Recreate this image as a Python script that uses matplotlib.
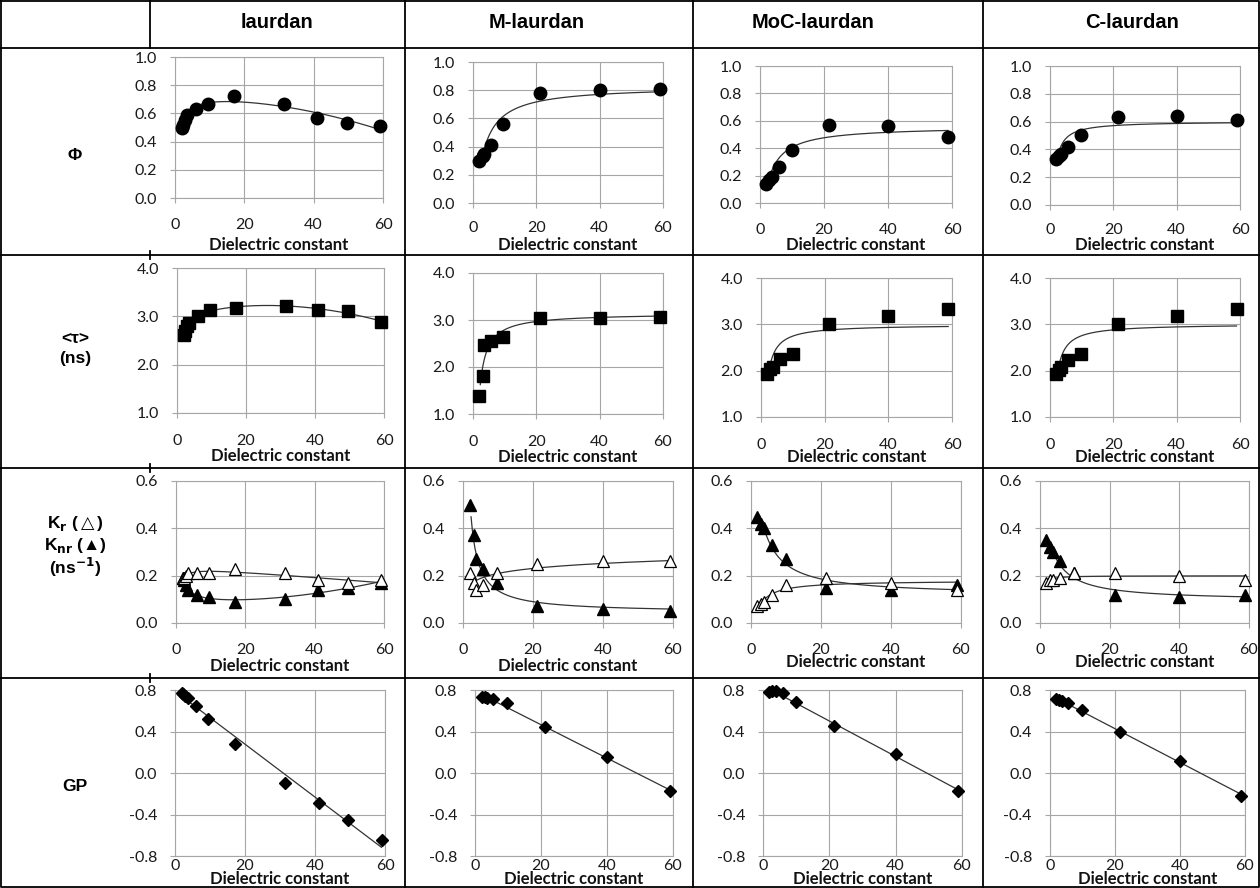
import numpy as np
import matplotlib
matplotlib.use("Agg")
import matplotlib.pyplot as plt
from matplotlib.lines import Line2D
from matplotlib.ticker import FormatStrFormatter

W, H = 1260, 888

# ---------------- data ----------------
columns = ["laurdan", "M-laurdan", "MoC-laurdan", "C-laurdan"]
xlabel = "Dielectric constant"

eps_laurdan = [2.0, 2.3, 2.8, 3.6, 6.0, 9.5, 17.0, 31.5, 41.0, 49.5, 59.0]
phi_laurdan = [0.50, 0.52, 0.55, 0.59, 0.63, 0.67, 0.72, 0.67, 0.57, 0.53, 0.51]
tau_laurdan = [2.62, 2.70, 2.80, 2.87, 3.00, 3.13, 3.18, 3.21, 3.13, 3.12, 2.88]
kr_laurdan = [0.19, 0.19, 0.20, 0.21, 0.21, 0.21, 0.23, 0.21, 0.18, 0.17, 0.18]
knr_laurdan = [0.19, 0.18, 0.16, 0.14, 0.12, 0.11, 0.09, 0.10, 0.14, 0.15, 0.17]
gp_laurdan = [0.77, 0.76, 0.74, 0.72, 0.65, 0.52, 0.28, -0.10, -0.29, -0.45, -0.65]

eps_m = [2.0, 3.1, 3.6, 5.6, 9.6, 21.2, 40.0, 59.0]
phi_m = [0.30, 0.33, 0.35, 0.41, 0.56, 0.78, 0.80, 0.81]
tau_m = [1.38, 1.80, 2.47, 2.56, 2.64, 3.04, 3.04, 3.07]
kr_m = [0.21, 0.17, 0.14, 0.16, 0.21, 0.25, 0.26, 0.26]
knr_m = [0.50, 0.37, 0.27, 0.23, 0.17, 0.07, 0.06, 0.05]
gp_m = [0.73, 0.73, 0.72, 0.71, 0.67, 0.44, 0.15, -0.17]

eps_moc = [1.8, 2.8, 3.8, 6.0, 10.0, 21.5, 40.0, 58.8]
phi_moc = [0.14, 0.17, 0.19, 0.26, 0.39, 0.57, 0.56, 0.48]
tau_moc = [1.92, 2.03, 2.08, 2.25, 2.35, 3.01, 3.18, 3.33]
kr_moc = [0.07, 0.08, 0.09, 0.12, 0.16, 0.19, 0.17, 0.14]
knr_moc = [0.45, 0.42, 0.40, 0.33, 0.27, 0.15, 0.14, 0.16]
gp_moc = [0.78, 0.79, 0.79, 0.77, 0.68, 0.45, 0.18, -0.17]

eps_c = [1.8, 2.8, 3.6, 5.6, 9.8, 21.4, 40.0, 58.9]
phi_c = [0.33, 0.35, 0.37, 0.42, 0.50, 0.63, 0.64, 0.61]
tau_c = [1.92, 2.02, 2.07, 2.24, 2.35, 3.01, 3.18, 3.33]
kr_c = [0.17, 0.18, 0.18, 0.19, 0.21, 0.21, 0.20, 0.18]
knr_c = [0.35, 0.32, 0.30, 0.26, 0.21, 0.12, 0.11, 0.12]
gp_c = [0.71, 0.70, 0.69, 0.67, 0.61, 0.40, 0.12, -0.22]

eps_all = [eps_laurdan, eps_m, eps_moc, eps_c]
phi_all = [phi_laurdan, phi_m, phi_moc, phi_c]
tau_all = [tau_laurdan, tau_m, tau_moc, tau_c]
kr_all = [kr_laurdan, kr_m, kr_moc, kr_c]
knr_all = [knr_laurdan, knr_m, knr_moc, knr_c]
gp_all = [gp_laurdan, gp_m, gp_moc, gp_c]

# trend-line model per curve
fit_phi = ["poly", "cm", "cm", "hyp"]
fit_tau = ["poly", "hyp", "hyp", "hyp"]
fit_kr = ["poly", "log", "hyp2", "hyp2"]
fit_knr = ["poly", "hyp", "hyp2", "hyp2"]

# ---------------- layout (pixels) ----------------
col_lines = [405, 693, 983]
first_col = 150
row_lines = [48, 255, 468, 678]
header_x = [277, 537, 813, 1132]

boxes = [
    [(175, 383, 57, 198), (473, 663, 62, 203), (760, 952, 66, 203), (1050, 1240, 66, 205)],
    [(177, 384, 268, 413), (473, 663, 273, 414), (761, 952, 278, 417), (1050, 1240, 278, 417)],
    [(176, 384, 481, 623), (463, 673, 481, 623), (751, 961, 481, 623), (1040, 1249, 481, 623)],
    [(175, 385, 690, 856), (475, 673, 690, 856), (763, 962, 690, 856), (1050, 1245, 690, 856)],
]
tick_y = [[223, 226, 228, 228], [439, 440, 443, 443], [648, 648, 648, 648], [864, 864, 864, 864]]
label_y = [[243, 243, 243, 243], [454, 455, 455, 455], [664, 664, 660, 660], [877, 877, 877, 877]]

ylims = [(0, 1.0), (1.0, 4.0), (0, 0.6), (-0.8, 0.8)]
yticks = [np.arange(0, 1.01, 0.2), np.arange(1, 4.01, 1.0),
          np.arange(0, 0.61, 0.2), np.arange(-0.8, 0.81, 0.4)]

TICKFONT = "Lato"
GRID = "#a6a6a6"
PX = 100 / 72.0  # pixels per point

fig = plt.figure(figsize=(W / 100, H / 100), dpi=100)

# frame axes (table lines)
frame = fig.add_axes([0, 0, 1, 1], zorder=-1)
frame.set_xlim(0, W)
frame.set_ylim(H, 0)
frame.axis("off")


def add_ax(box):
    L, R, T, B = box
    return fig.add_axes([L / W, 1 - B / H, (R - L) / W, (B - T) / H])


def fit_curve(x, y, kind):
    x = np.asarray(x, float)
    y = np.asarray(y, float)
    if kind == "poly":
        basis = lambda t: np.column_stack([np.ones_like(t), 1 / t, t, t ** 2])
    elif kind == "log":
        basis = lambda t: np.column_stack([np.ones_like(t), np.log(t)])
    elif kind == "hyp2":
        basis = lambda t: np.column_stack([np.ones_like(t), 1 / t, 1 / t ** 2])
    elif kind == "cm":
        basis = lambda t: np.column_stack([np.ones_like(t), (t - 1) / (t + 2)])
    else:
        basis = lambda t: np.column_stack([np.ones_like(t), 1 / t])
    coef, *_ = np.linalg.lstsq(basis(x), y, rcond=None)
    xs = np.linspace(x.min() + 0.3, x.max(), 300)
    return xs, basis(xs) @ coef


def style_ax(ax, r, c):
    L, R, T, B = boxes[r][c]
    ax.set_xlim(0, 60)
    ax.set_ylim(*ylims[r])
    ax.set_xticks([0, 20, 40, 60])
    ax.set_yticks(yticks[r])
    ax.yaxis.set_major_formatter(FormatStrFormatter("%.1f"))
    ax.grid(True, color=GRID, lw=0.8)
    ax.set_axisbelow(True)
    for s in ax.spines.values():
        s.set_color(GRID)
        s.set_linewidth(0.8)
    tl = 0 if r == 3 else 5
    xpad = max(0.0, (tick_y[r][c] - 5 - B - tl) / PX)
    ax.tick_params(axis="x", direction="out", length=tl / PX, width=0.8, color=GRID,
                   labelsize=11.5, pad=xpad, labelcolor="#1a1a1a")
    ax.tick_params(axis="y", direction="out", length=5 / PX, width=0.8, color=GRID,
                   labelsize=11.5, pad=13 / PX, labelcolor="#1a1a1a")
    for lab in ax.get_xticklabels() + ax.get_yticklabels():
        lab.set_fontfamily(TICKFONT)
    ax.set_xlabel(xlabel, fontsize=12, fontweight="bold", fontfamily=TICKFONT,
                  color="#111111")
    top = label_y[r][c] - 6
    ax.xaxis.set_label_coords(0.5, (B - top) / (B - T))
    ax.set_facecolor("none")


line_kw = dict(color="#333333", lw=0.9, zorder=2)

for c in range(4):
    x = eps_all[c]
    # row 1: quantum yield
    ax = add_ax(boxes[0][c])
    style_ax(ax, 0, c)
    ax.plot(*fit_curve(x, phi_all[c], fit_phi[c]), **line_kw)
    ax.plot(x, phi_all[c], "o", ms=9, color="black", zorder=3, clip_on=False)
    # row 2: lifetime
    ax = add_ax(boxes[1][c])
    style_ax(ax, 1, c)
    ax.plot(*fit_curve(x, tau_all[c], fit_tau[c]), **line_kw)
    ax.plot(x, tau_all[c], "s", ms=8.5, color="black", zorder=3, clip_on=False)
    # row 3: rate constants
    ax = add_ax(boxes[2][c])
    style_ax(ax, 2, c)
    ax.plot(*fit_curve(x, kr_all[c], fit_kr[c]), **line_kw)
    ax.plot(*fit_curve(x, knr_all[c], fit_knr[c]), **line_kw)
    ax.plot(x, knr_all[c], "^", ms=8, color="black", zorder=3, clip_on=False)
    ax.plot(x, kr_all[c], "^", ms=8, mfc="white", mec="black", mew=0.9,
            zorder=4, clip_on=False)
    # row 4: GP
    ax = add_ax(boxes[3][c])
    style_ax(ax, 3, c)
    xx = np.array(x, float)
    coef = np.polyfit(xx, gp_all[c], 1)
    xs = np.linspace(xx.min(), xx.max(), 50)
    ax.plot(xs, np.polyval(coef, xs), **line_kw)
    ax.plot(x, gp_all[c], "D", ms=6.5, color="black", zorder=3, clip_on=False)

# ---------------- table frame ----------------
lw_t = 1.3
frame.add_line(Line2D([first_col, first_col], [0, row_lines[0]], color="black", lw=lw_t))
for yv in row_lines[1:]:
    frame.add_line(Line2D([first_col, first_col], [yv - 4, yv + 4], color="black", lw=lw_t))
for xv in col_lines:
    frame.add_line(Line2D([xv, xv], [0, H], color="black", lw=lw_t))
for yv in row_lines:
    frame.add_line(Line2D([0, W], [yv, yv], color="black", lw=lw_t))
frame.add_line(Line2D([1, W - 1, W - 1, 1, 1], [1, 1, H - 1, H - 1, 1], color="black", lw=lw_t))

HEAD = ["Liberation Sans", "DejaVu Sans"]
for hx, name in zip(header_x, columns):
    frame.text(hx, 22, name, ha="center", va="center", fontsize=14.5,
               fontweight="bold", family=HEAD)

rowfs = 12.5
kw = dict(ha="center", va="center", fontsize=rowfs, fontweight="bold", family=HEAD)
frame.text(75, 155, "Φ", **kw)
frame.text(75, 338, "<τ>", **kw)
frame.text(75, 358, "(ns)", **kw)
frame.text(75, 523, r"K$_\mathbf{r}$ ($\triangle$)", **kw)
frame.text(75, 545, r"K$_\mathbf{nr}$ (▲)", **kw)
frame.text(75, 567, r"(ns$^\mathbf{-1}$)", **kw)
frame.text(75, 786, "GP", **kw)

fig.savefig("out.png", dpi=100, facecolor="white")
